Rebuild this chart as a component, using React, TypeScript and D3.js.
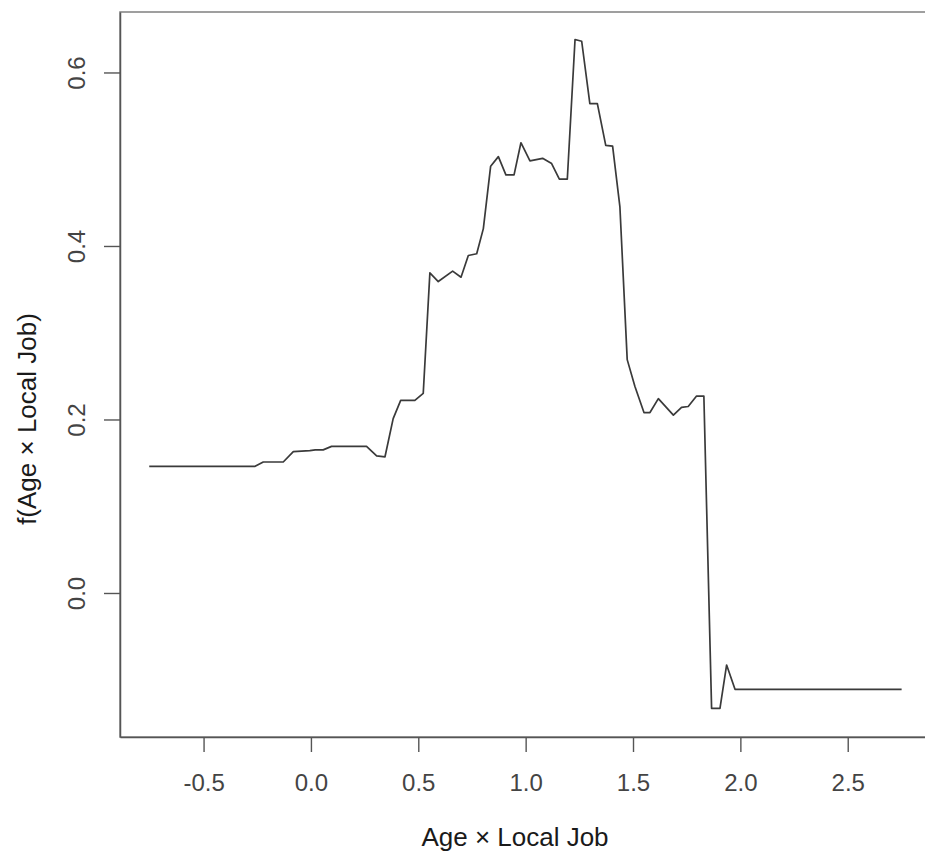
import { useEffect, useRef } from 'react';
import * as d3 from 'd3';

// traced vertices of the partial-dependence curve
const xs = [
  -0.753, -0.26, -0.222, -0.129, -0.082, -0.005, 0.02, 0.057, 0.096, 0.259, 0.306, 0.345,
  0.383, 0.418, 0.484, 0.523, 0.554, 0.593, 0.66, 0.699, 0.733, 0.772, 0.803, 0.837,
  0.873, 0.908, 0.946, 0.978, 1.02, 1.079, 1.121, 1.157, 1.194, 1.23, 1.261, 1.299,
  1.334, 1.373, 1.405, 1.439, 1.473, 1.509, 1.551, 1.579, 1.618, 1.688, 1.726, 1.757,
  1.796, 1.83, 1.866, 1.905, 1.936, 1.975, 2.751,
];
const ys = [
  0.146, 0.146, 0.151, 0.151, 0.163, 0.164, 0.165, 0.165, 0.169, 0.169, 0.158, 0.157,
  0.201, 0.222, 0.222, 0.23, 0.369, 0.359, 0.371, 0.364, 0.389, 0.391, 0.42, 0.492,
  0.503, 0.482, 0.482, 0.519, 0.498, 0.501, 0.495, 0.477, 0.477, 0.638, 0.636, 0.564,
  0.564, 0.516, 0.515, 0.445, 0.269, 0.238, 0.208, 0.208, 0.224, 0.205, 0.214, 0.215,
  0.227, 0.227, -0.133, -0.133, -0.083, -0.111, -0.111,
];
const xTicks = [-0.5, 0, 0.5, 1, 1.5, 2, 2.5];
const yTicks = [0, 0.2, 0.4, 0.6];

const W = 925;
const H = 859;
const box = { left: 120, right: 927, top: 12, bottom: 737 };
const font = '"Liberation Sans", Arial, sans-serif';
const fmt = (d: number) => d3.format('.1f')(d).replace('\u2212', '-');

const draw = (node: SVGSVGElement) => {
  const svg = d3.select(node);
  svg.selectAll('*').remove();

  const x = d3.scaleLinear().domain([-0.8892, 2.8692]).range([box.left, box.right]);
  const y = d3.scaleLinear().domain([-0.166, 0.6697]).range([box.bottom, box.top]);

  // plot frame
  svg
    .append('rect')
    .attr('x', box.left)
    .attr('y', box.top)
    .attr('width', box.right - box.left)
    .attr('height', box.bottom - box.top)
    .attr('fill', 'none')
    .attr('stroke', '#808080')
    .attr('stroke-width', 1.5);

  // x axis
  const gx = svg
    .append('g')
    .attr('transform', `translate(0,${box.bottom})`)
    .call(
      d3
        .axisBottom(x)
        .tickValues(xTicks)
        .tickSizeInner(15)
        .tickSizeOuter(0)
        .tickFormat((d) => fmt(+d)),
    );
  gx.select('.domain').attr('stroke', '#555').attr('stroke-width', 1.5);
  gx.selectAll('.tick line').attr('stroke', '#555').attr('stroke-width', 1.4);
  gx.selectAll('.tick text')
    .attr('font-family', font)
    .attr('font-size', 24)
    .attr('fill', '#444')
    .attr('dy', 0)
    .attr('y', 54);

  // y axis
  const gy = svg
    .append('g')
    .attr('transform', `translate(${box.left},0)`)
    .call(
      d3
        .axisLeft(y)
        .tickValues(yTicks)
        .tickSizeInner(16)
        .tickSizeOuter(0)
        .tickFormat((d) => fmt(+d)),
    );
  gy.select('.domain').attr('stroke', '#555').attr('stroke-width', 1.5);
  gy.selectAll('.tick line').attr('stroke', '#555').attr('stroke-width', 1.4);
  gy.selectAll('.tick text')
    .attr('font-family', font)
    .attr('font-size', 24)
    .attr('fill', '#444')
    .attr('text-anchor', 'middle')
    .attr('x', 0)
    .attr('dy', 0)
    .attr('transform', 'translate(-35,0) rotate(-90)');

  // curve
  const pts: [number, number][] = xs.map((v, i) => [v, ys[i]]);
  svg
    .append('path')
    .datum(pts)
    .attr('fill', 'none')
    .attr('stroke', '#3a3a3a')
    .attr('stroke-width', 1.7)
    .attr('stroke-linejoin', 'round')
    .attr(
      'd',
      d3
        .line<[number, number]>()
        .x((d) => x(d[0]))
        .y((d) => y(d[1])),
    );

  // titles
  svg
    .append('text')
    .attr('x', 515)
    .attr('y', 846)
    .attr('text-anchor', 'middle')
    .attr('font-family', font)
    .attr('font-size', 26)
    .attr('fill', '#1a1a1a')
    .text('Age × Local Job');

  svg
    .append('text')
    .attr('transform', 'translate(36,419) rotate(-90)')
    .attr('text-anchor', 'middle')
    .attr('font-family', font)
    .attr('font-size', 26)
    .attr('fill', '#1a1a1a')
    .text('f(Age × Local Job)');
};

export default function App() {
  const ref = useRef<SVGSVGElement>(null);
  useEffect(() => {
    if (ref.current) draw(ref.current);
  }, []);
  return (
    <svg
      ref={ref}
      width={W}
      height={H}
      style={{ position: 'absolute', left: 0, top: 0, background: '#fff' }}
    />
  );
}
